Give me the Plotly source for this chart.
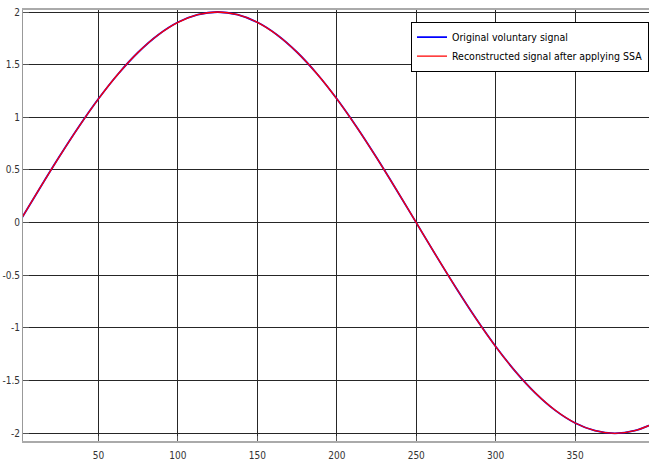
import plotly.graph_objects as go

x_vals = [0, 12.5, 25, 37.5, 50, 62.5, 75, 87.5, 100, 112.5, 125, 137.5, 150, 162.5, 175, 187.5,
          200, 212.5, 225, 237.5, 250, 262.5, 275, 287.5, 300, 312.5, 325, 337.5, 350, 362.5, 375, 387.5, 400]
orig_vals = [0, 0.313, 0.618, 0.908, 1.176, 1.414, 1.618, 1.782, 1.902, 1.975, 2.0, 1.975, 1.902, 1.782,
             1.618, 1.414, 1.176, 0.908, 0.618, 0.313, 0, -0.313, -0.618, -0.908, -1.176, -1.414, -1.618,
             -1.782, -1.902, -1.975, -2.0, -1.975, -1.902]
recon_vals = list(orig_vals)

x_ticks = [50, 100, 150, 200, 250, 300, 350]
y_ticks = [-2, -1.5, -1, -0.5, 0, 0.5, 1, 1.5, 2]
y_labels = ["-2", "-1.5", "-1", "-0.5", "0", "0.5", "1", "1.5", "2"]

font_family = "DejaVu Sans Condensed, Liberation Sans Narrow, Arial Narrow, Liberation Sans, Arial, sans-serif"

fig = go.Figure()
fig.add_trace(go.Scatter(x=x_vals, y=orig_vals, mode="lines", line_shape="spline",
                         name="Original voluntary signal", line=dict(color="#0000ff", width=1.8)))
fig.add_trace(go.Scatter(x=x_vals, y=recon_vals, mode="lines", line_shape="spline",
                         name="Reconstructed signal after applying SSA", line=dict(color="#ff0000", width=1.3)))

fig.update_layout(
    width=649, height=460,
    margin=dict(l=23, r=0, t=10, b=19, autoexpand=False),
    paper_bgcolor="white", plot_bgcolor="white",
    font=dict(family=font_family, size=10, color="#333333"),
    showlegend=True,
    legend=dict(x=1.0, y=0.973, xanchor="right", yanchor="top",
                bgcolor="white", bordercolor="#000000", borderwidth=1,
                font=dict(family=font_family, size=10.5, color="#000000"),
                tracegroupgap=0, itemwidth=30),
    xaxis=dict(range=[2.5, 396.5], tickvals=x_ticks, ticktext=[str(v) for v in x_ticks],
               showgrid=True, gridcolor="#262626", gridwidth=1, zeroline=False,
               showline=True, linecolor="#aaaaaa", linewidth=2, mirror=True,
               ticks="inside", ticklen=5, tickcolor="#555555", ticklabelstandoff=4,
               tickfont=dict(family=font_family, size=10, color="#333333")),
    yaxis=dict(range=[-2.073, 2.019], tickvals=y_ticks, ticktext=y_labels,
               showgrid=True, gridcolor="#262626", gridwidth=1, zeroline=False,
               showline=True, linecolor="#999999", linewidth=1, mirror=True,
               ticks="inside", ticklen=6, tickcolor="#555555",
               tickfont=dict(family=font_family, size=10, color="#333333")),
)

fig.write_html("out.html")
